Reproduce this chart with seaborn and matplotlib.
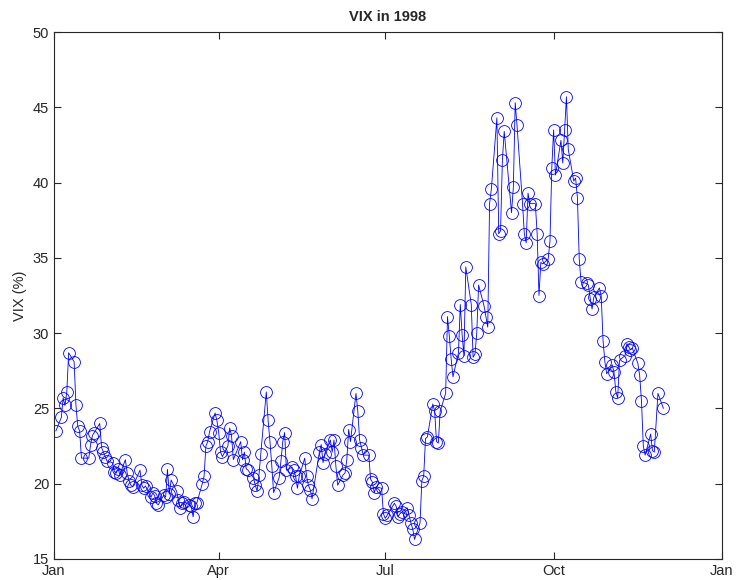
import matplotlib
matplotlib.use('Agg')
import matplotlib.pyplot as plt
from matplotlib import font_manager
import seaborn as sns
import pandas as pd

# daily VIX closes
jan = [23.5, 24.4, 25.7, 25.2, 26.1, 28.7, 28.1, 25.2, 23.8, 23.5, 21.7, 21.7, 22.6, 23.2, 23.4, 24.0, 22.4, 22.1, 21.8, 21.5]
feb = [21.4, 20.8, 20.7, 21.0, 20.6, 21.6, 20.7, 20.2, 19.9, 19.8, 20.9, 19.9, 19.7, 19.85, 19.1, 19.4, 19.2, 18.7, 18.6]
mar = [19.25, 19.1, 20.95, 19.3, 20.25, 19.5, 18.9, 18.4, 18.7, 18.8, 18.6, 18.5, 17.8, 18.7, 18.7, 20.0, 20.5, 22.5, 22.8, 23.45, 24.7, 24.2]
apr = [23.4, 22.1, 21.8, 22.5, 23.7, 23.2, 21.6, 22.8, 21.6, 22.1, 21.0, 20.9, 20.4, 19.9, 19.5, 20.6, 22.0, 26.1, 24.2, 22.8, 21.2]
may = [19.4, 20.4, 21.5, 22.8, 23.4, 20.9, 21.1, 20.9, 20.5, 19.7, 20.5, 21.7, 20.5, 19.9, 19.6, 19.0, 22.1, 22.6, 21.4, 22.0]
jun = [22.9, 22.1, 22.9, 21.2, 19.9, 20.6, 20.7, 21.6, 23.6, 22.8, 26.0, 24.8, 22.9, 22.4, 21.9, 21.9, 20.3, 20.1, 19.4, 19.8, 19.7, 18.0]
jul = [17.7, 17.9, 18.7, 18.5, 17.8, 18.0, 18.1, 18.4, 17.9, 17.4, 17.0, 16.3, 17.4, 20.2, 20.5, 23.0, 23.1, 25.3, 24.8, 22.8, 22.7, 24.8]
aug = [26.0, 31.1, 29.8, 28.3, 27.1, 28.7, 31.9, 29.9, 28.5, 34.4, 31.9, 28.4, 28.6, 30.0, 33.2, 31.8, 31.1, 30.4, 38.6, 39.6, 44.3]
sep = [36.6, 36.8, 41.5, 43.4, 38.0, 39.7, 45.3, 43.8, 38.6, 36.6, 36.0, 39.3, 38.6, 38.6, 36.6, 32.5, 34.7, 34.6, 34.9, 36.1, 41.0]
oct_ = [43.5, 40.5, 42.8, 41.3, 43.5, 45.7, 42.2, 40.1, 40.3, 39.0, 34.9, 33.4, 33.3, 33.2, 32.3, 31.6, 32.4, 33.0, 32.5, 29.5, 28.1, 27.3]
nov = [27.9, 27.4, 26.1, 25.7, 28.2, 28.5, 29.3, 29.1, 28.9, 29.0, 28.0, 27.2, 25.5, 22.5, 21.9, 23.3, 22.2, 22.1, 26.0, 25.0]

holidays = ['1998-01-01', '1998-01-19', '1998-02-16', '1998-04-10',
            '1998-05-25', '1998-07-03', '1998-09-07', '1998-11-26']
tick_dates = ['1998-01-01', '1998-04-01', '1998-07-01', '1998-10-01', '1999-01-01']
tick_labels = ['Jan', 'Apr', 'Jul', 'Oct', 'Jan']

days = pd.bdate_range('1998-01-01', '1998-11-30').drop(pd.to_datetime(holidays))
vix = jan + feb + mar + apr + may + jun + jul + aug + sep + oct_ + nov
df = pd.DataFrame({'date': days[:len(vix)], 'vix': vix})

sns.set_style('white')
# the original looks like a narrow Helvetica
installed = {f.name for f in font_manager.fontManager.ttflist}
main_font = 'Liberation Sans Narrow' if 'Liberation Sans Narrow' in installed else 'Liberation Sans'
plt.rcParams['font.family'] = [main_font, 'DejaVu Sans']

fig = plt.figure(figsize=(7.37, 5.8), dpi=100)
ax = fig.add_axes([54 / 737, 21 / 580, 668 / 737, 527 / 580])

sns.lineplot(data=df, x='date', y='vix', ax=ax, color='#0000ff', linewidth=0.6,
             marker='o', markersize=8.5, markerfacecolor='none',
             markeredgecolor='#0000ff', markeredgewidth=0.6)

ax.set_xlim(pd.Timestamp(tick_dates[0]), pd.Timestamp(tick_dates[-1]))
ax.set_ylim(15, 50)
ax.set_xticks(pd.to_datetime(tick_dates))
ax.set_xticklabels(tick_labels)
ax.set_yticks(range(15, 51, 5))

ax.set_title('VIX in 1998', fontsize=10.5, fontweight='bold', pad=8)
ax.set_xlabel('')
ax.set_ylabel('VIX (%)', fontsize=10.5)

ax.tick_params(direction='in', length=5, width=0.8, labelsize=10.5,
               top=True, right=True, bottom=True, left=True, colors='#262626')
for s in ax.spines.values():
    s.set_color('#262626')
    s.set_linewidth(0.8)

fig.savefig('out.png', dpi=100)
